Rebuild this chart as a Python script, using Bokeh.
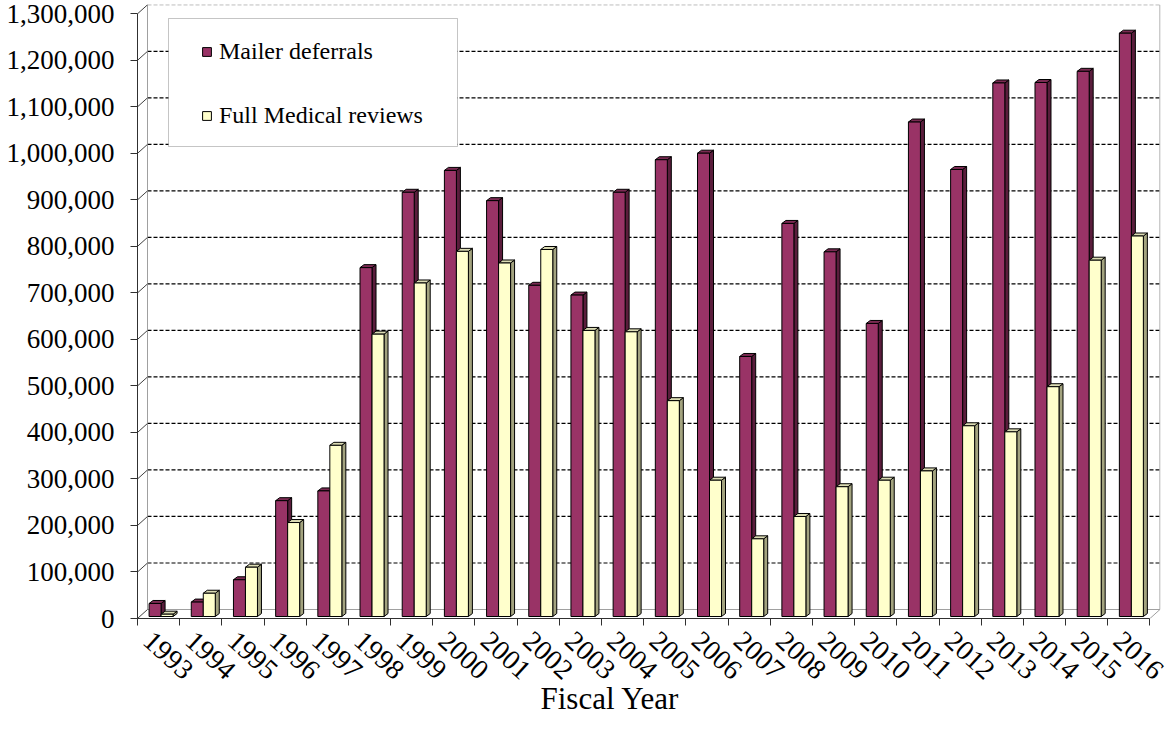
from bokeh.plotting import figure
from bokeh.models import (Range1d, FixedTicker, NumeralTickFormatter, Legend,
                          LegendItem, BoxAnnotation, Title)
from bokeh.embed import file_html
from bokeh.resources import INLINE

# ---- data -------------------------------------------------------------
years = ["1993", "1994", "1995", "1996", "1997", "1998", "1999", "2000",
         "2001", "2002", "2003", "2004", "2005", "2006", "2007", "2008",
         "2009", "2010", "2011", "2012", "2013", "2014", "2015", "2016"]
mailer_deferrals = [28000, 31000, 79000, 249000, 270000, 750000, 912000,
                    959000, 894000, 712000, 691000, 912000, 982000, 996000,
                    559000, 845000, 784000, 630000, 1063000, 961000, 1147000,
                    1148000, 1172000, 1254000]
full_medical_reviews = [5000, 50000, 106000, 202000, 368000, 607000, 717000,
                        785000, 760000, 789000, 615000, 612000, 464000, 293000,
                        167000, 215000, 279000, 293000, 313000, 410000, 397000,
                        494000, 766000, 818000]
y_ticks = [0, 100000, 200000, 300000, 400000, 500000, 600000, 700000,
           800000, 900000, 1000000, 1100000, 1200000, 1300000]

# ---- layout constants -------------------------------------------------
W, H = 1171, 736
LEFT, RIGHT, TOP, BOTTOM = 137, 1160, 4, 618          # plot frame in px
X_END, Y_END = 24.25, 1320000
PX_X = (RIGHT - LEFT) / X_END                          # px per category
PX_Y = (BOTTOM - TOP) / Y_END                          # px per unit value

DX, DY = 10 / PX_X, 9 / PX_Y                           # depth of walls
SX, SY = 4 / PX_X, 3 / PX_Y                            # depth of bars
BAR_W = 12 / PX_X
BASE = 2 / PX_Y
SHIFT = 2.5 / PX_X
LABEL_SHIFT = 11 / PX_X                                # year labels sit left of centre
N = len(years)
Y_MAX = y_ticks[-1]

SERIF = "'Liberation Serif', 'Times New Roman', serif"

p = figure(width=W, height=H, output_backend="svg", toolbar_location=None,
           x_range=Range1d(0, X_END), y_range=Range1d(0, Y_END),
           min_border_left=LEFT, min_border_right=W - RIGHT,
           min_border_top=TOP, min_border_bottom=H - BOTTOM,
           background_fill_color="white", border_fill_color="white")
p.outline_line_color = None
p.xgrid.visible = False
p.ygrid.visible = False

# ---- 3D box: back wall, floor, side wall ------------------------------
grid_vals = y_ticks[1:-1]
p.segment(x0=[DX] * len(grid_vals), y0=[v + DY for v in grid_vals],
          x1=[N + DX] * len(grid_vals), y1=[v + DY for v in grid_vals],
          line_color="black", line_width=1.2, line_dash="4 2")
p.segment(x0=[DX], y0=[Y_MAX + DY], x1=[N + DX], y1=[Y_MAX + DY],
          line_color="#9a9a9a", line_width=1, line_dash="4 2")
# wall edges
p.segment(x0=[DX, N + DX, DX, N], y0=[DY, DY, DY, 0],
          x1=[DX, N + DX, N + DX, N + DX], y1=[Y_MAX + DY, Y_MAX + DY, DY, DY],
          line_color="#a0a0a0", line_width=1)
# diagonal ticks on the left side wall
p.segment(x0=[0] * len(y_ticks), y0=y_ticks,
          x1=[DX] * len(y_ticks), y1=[v + DY for v in y_ticks],
          line_color="#404040", line_width=1)


# ---- bars -------------------------------------------------------------
def draw_bars(values, offset, front, side, top):
    lefts = [i + 0.5 + SHIFT + offset for i in range(N)]
    rights = [l + BAR_W for l in lefts]
    tops = [BASE + v for v in values]
    side_xs = [[r, r + SX, r + SX, r] for r in rights]
    side_ys = [[BASE, BASE + SY, t + SY, t] for t in tops]
    top_xs = [[l, r, r + SX, l + SX] for l, r in zip(lefts, rights)]
    top_ys = [[t, t, t + SY, t + SY] for t in tops]
    p.patches(side_xs, side_ys, fill_color=side, line_color="black",
              line_width=1)
    p.patches(top_xs, top_ys, fill_color=top, line_color="black",
              line_width=1)
    return p.quad(left=lefts, right=rights, bottom=[BASE] * N, top=tops,
                  fill_color=front, line_color="black", line_width=1)


r_mailer = draw_bars(mailer_deferrals, -BAR_W, "#993366", "#5a1d3c", "#7a2a52")
r_fmr = draw_bars(full_medical_reviews, 0.0, "#ffffcc", "#a3a37f", "#dcdcb4")

# ---- axes -------------------------------------------------------------
yax = p.yaxis[0]
yax.ticker = FixedTicker(ticks=y_ticks)
yax.formatter = NumeralTickFormatter(format="0,0")
yax.bounds = (0, Y_MAX)
yax.axis_line_color = "#303030"
yax.major_tick_line_color = "#303030"
yax.major_tick_out = 7
yax.major_tick_in = 0
yax.minor_tick_line_color = None
yax.major_label_standoff = 16
yax.major_label_text_font = SERIF
yax.major_label_text_font_size = "27px"
yax.major_label_text_color = "black"

xax = p.xaxis[0]
label_pos = [i + 0.5 - LABEL_SHIFT for i in range(N)]
xax.ticker = FixedTicker(ticks=label_pos, minor_ticks=list(range(N + 1)))
xax.major_label_overrides = {c: y for c, y in zip(label_pos, years)}
xax.bounds = (0, N)
xax.axis_line_color = "#303030"
xax.major_tick_line_color = None
xax.major_tick_out = 0
xax.major_tick_in = 0
xax.minor_tick_line_color = "#303030"
xax.minor_tick_out = 7
xax.minor_tick_in = 0
xax.major_label_orientation = -0.74
xax.major_label_standoff = 11
xax.major_label_text_font = SERIF
xax.major_label_text_font_size = "28px"
xax.major_label_text_color = "black"

# axis title below the year labels
p.add_layout(Title(text="Fiscal Year", align="left", offset=403,
                   text_font=SERIF, text_font_size="31px",
                   text_font_style="normal", text_color="black",
                   standoff=-24), "below")

# ---- legend -----------------------------------------------------------
legend_box = BoxAnnotation(left=31 / PX_X, right=320 / PX_X,
                           top=(BOTTOM - 18) / PX_Y, bottom=(BOTTOM - 146) / PX_Y,
                           fill_color="white", fill_alpha=1.0,
                           line_color="#404040", line_width=1)
p.add_layout(legend_box)

legend = Legend(items=[LegendItem(label="Mailer deferrals", renderers=[r_mailer]),
                       LegendItem(label="Full Medical reviews", renderers=[r_fmr])],
                location=(64, BOTTOM - 130), orientation="vertical",
                padding=0, margin=0, spacing=34,
                glyph_width=11, glyph_height=11, label_height=30,
                label_standoff=7, label_text_font=SERIF,
                label_text_font_size="24px", label_text_color="black",
                border_line_alpha=0, background_fill_alpha=0)
p.add_layout(legend)

open("out.html", "w").write(file_html(p, INLINE))
